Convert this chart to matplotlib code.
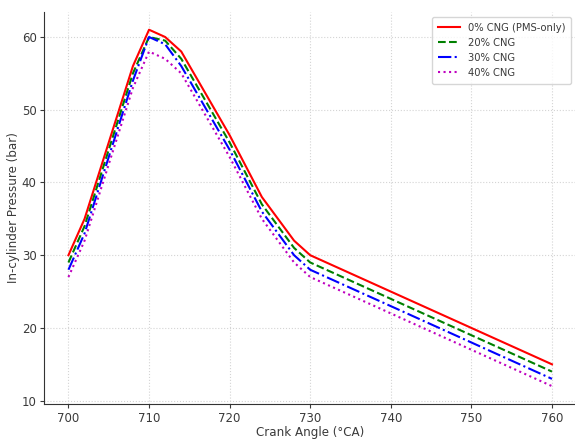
import numpy as np
import matplotlib
matplotlib.use("Agg")
import matplotlib.pyplot as plt

# Crank angle points (°CA)
crank_angle = [700, 702, 706, 708, 710, 712, 714, 720, 724, 728, 730, 740, 750, 760]

# In-cylinder pressure (bar) for each CNG share
p_cng0 = [30, 35, 49, 56, 61, 60, 58, 46.5, 38, 32, 30, 25, 20, 15]
p_cng20 = [29, 34, 48, 55, 60, 59.5, 57, 45.5, 37, 31, 29, 24, 19, 14]
p_cng30 = [28, 33, 47, 54, 60, 59, 56, 44.5, 36, 30, 28, 23, 18, 13]
p_cng40 = [27, 32, 46, 53, 58, 57, 55, 43.5, 35, 29, 27, 22, 17, 12]

labels = ["0% CNG (PMS-only)", "20% CNG", "30% CNG", "40% CNG"]

plt.rcParams['font.family'] = ['DejaVu Sans']
txt = '#3a3a3a'

fig = plt.figure(figsize=(5.75, 4.41), dpi=100)
ax = fig.add_axes([0.077, 0.084, 0.925, 0.889])

ax.plot(crank_angle, p_cng0, color='red', linestyle='-', linewidth=1.5, label=labels[0])
ax.plot(crank_angle, p_cng20, color='green', linestyle='--', linewidth=1.5, label=labels[1])
ax.plot(crank_angle, p_cng30, color='blue', linestyle='-.', linewidth=1.5, label=labels[2])
ax.plot(crank_angle, p_cng40, color='m', linestyle=':', linewidth=1.5, label=labels[3])

ax.set_xlabel('Crank Angle (°CA)', fontsize=8.6, color=txt, labelpad=1)
ax.set_ylabel('In-cylinder Pressure (bar)', fontsize=8.6, color=txt, labelpad=1)
ax.tick_params(labelsize=8.5, colors=txt, length=3, width=0.8, pad=2.5)
ax.set_yticks([10, 20, 30, 40, 50, 60])

ax.grid(True, linestyle=':', color='#d4d4d4', linewidth=0.8)
ax.spines['top'].set_visible(False)
ax.spines['right'].set_visible(False)
for s in ['left', 'bottom']:
    ax.spines[s].set_color('#333333')

leg = ax.legend(loc='upper right', fontsize=7.2, frameon=True, handlelength=2.2,
                borderpad=0.6, labelspacing=0.5)
for t in leg.get_texts():
    t.set_color(txt)

fig.savefig('out.png', dpi=100)
